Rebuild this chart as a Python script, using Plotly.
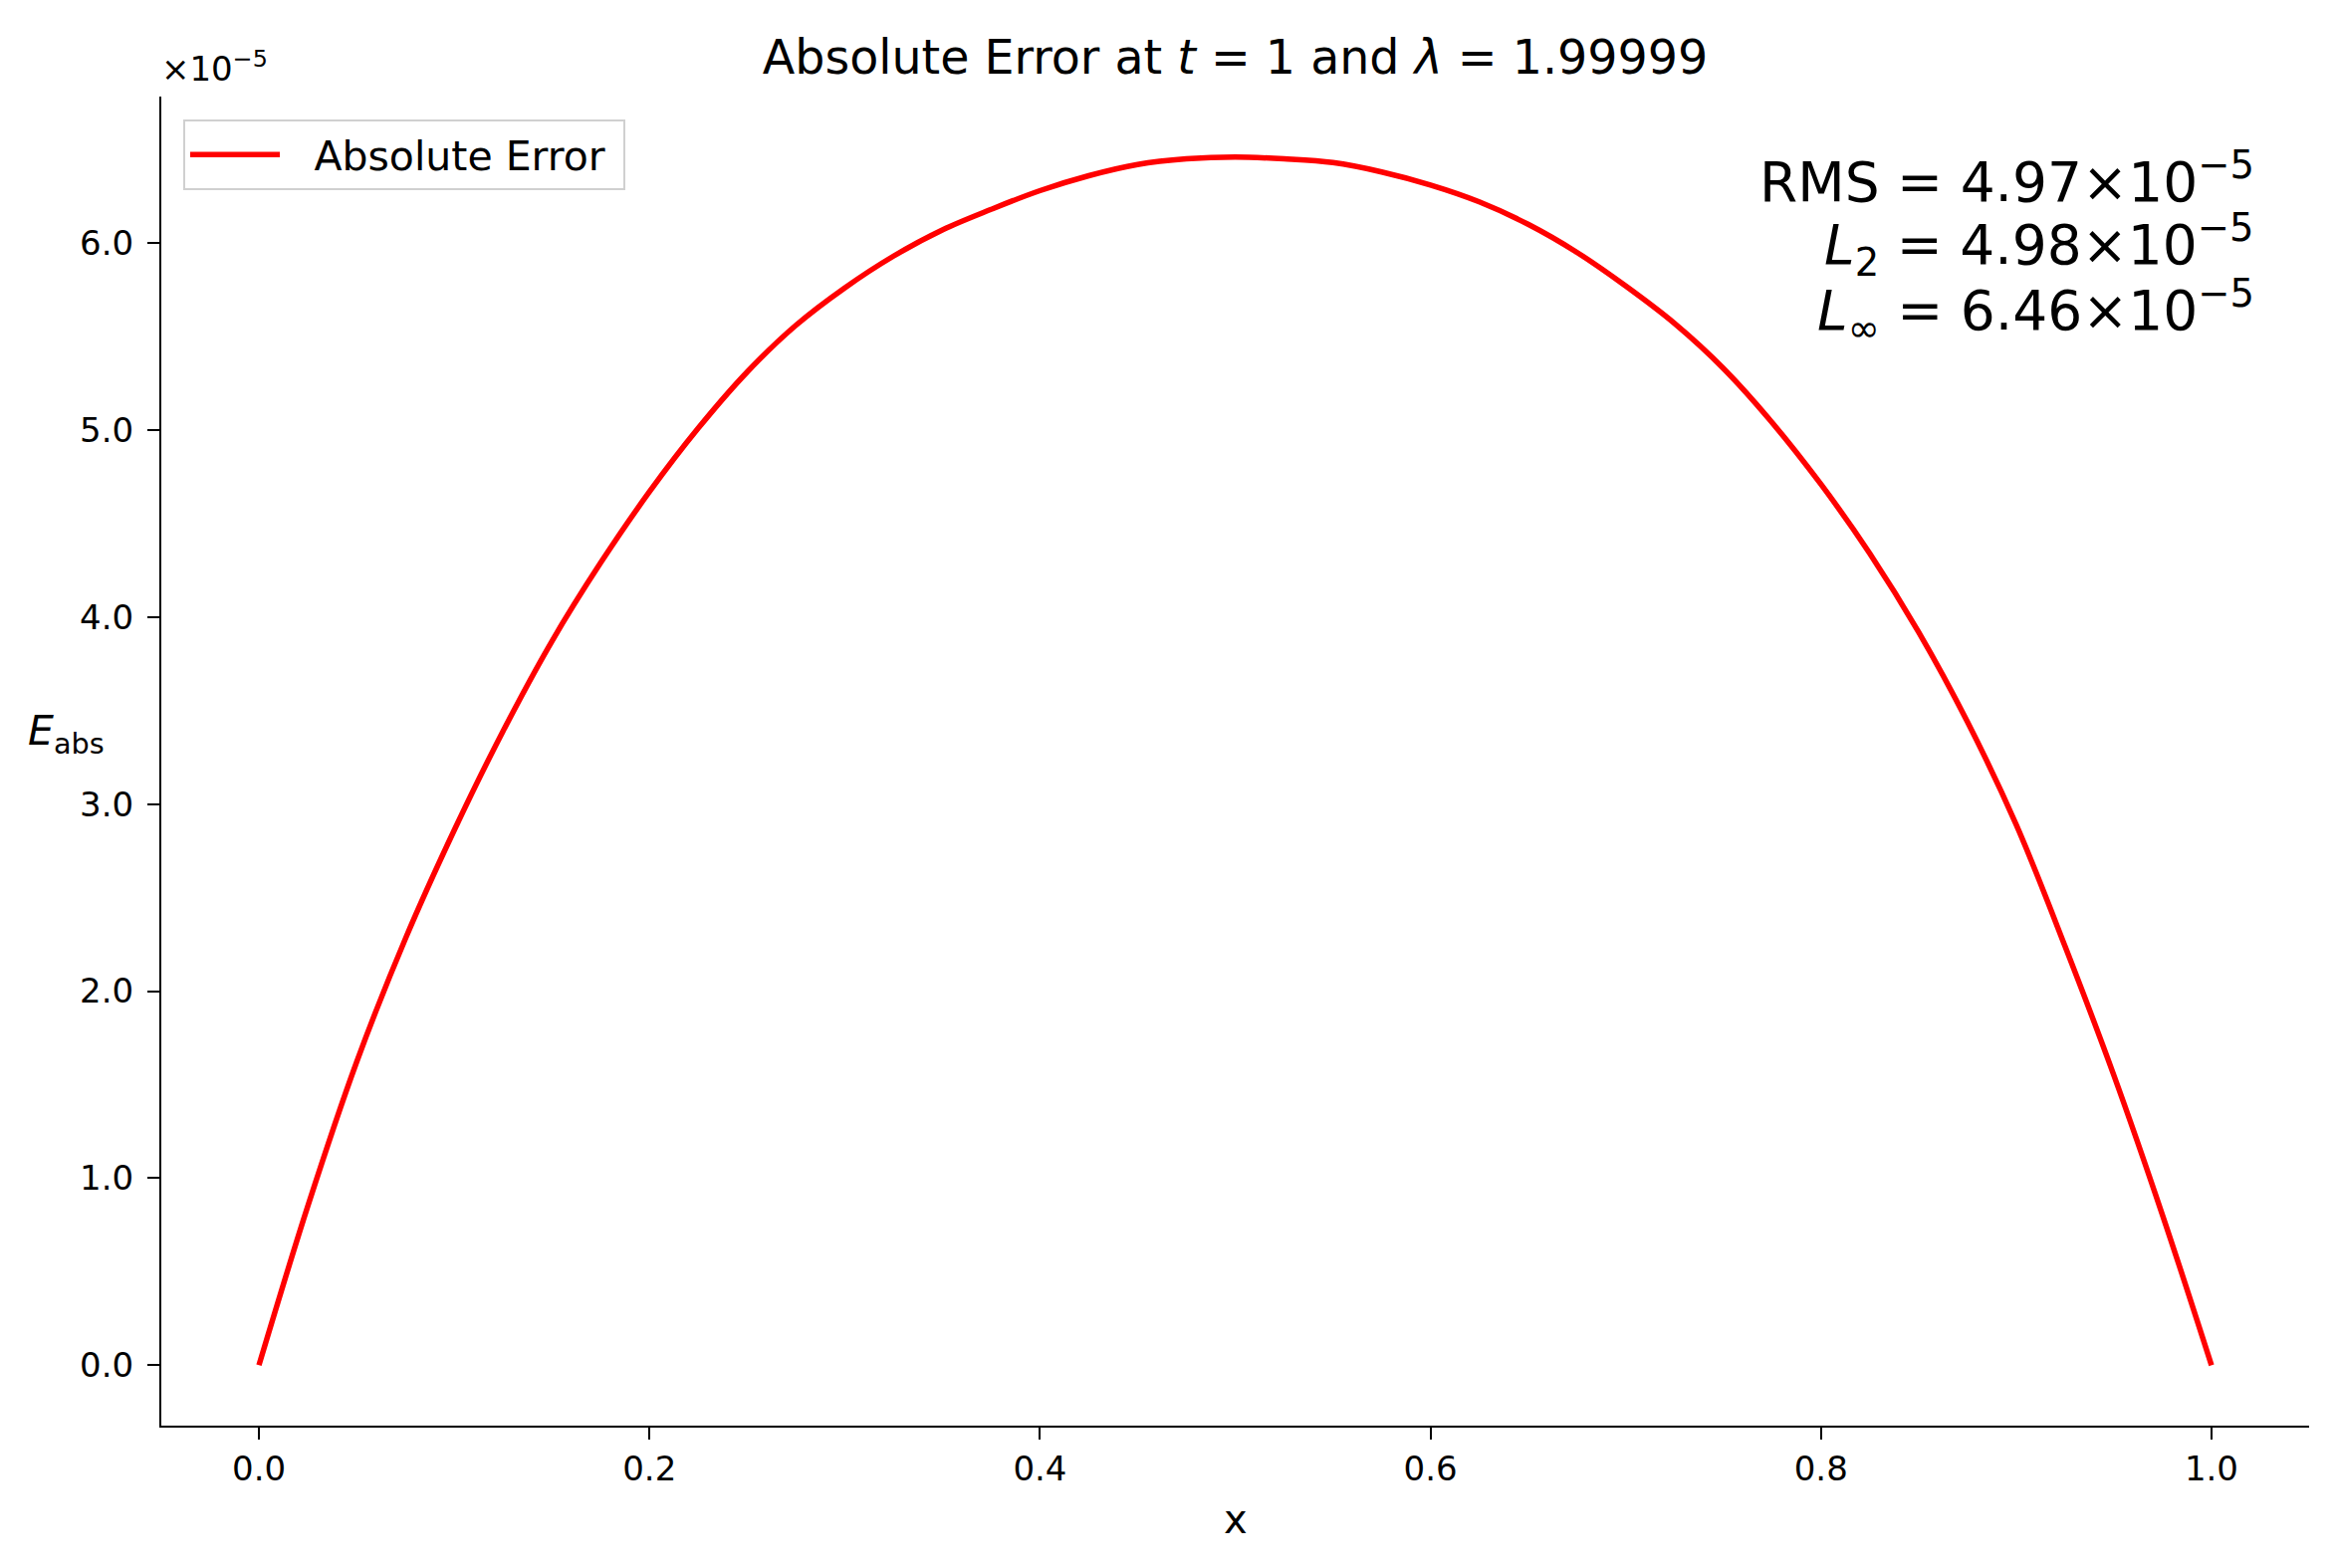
import plotly.graph_objects as go

# Values (x in [0,1], error in units of 1e-5)
x_vals = [0.0, 0.025, 0.05, 0.075, 0.1, 0.125, 0.15, 0.175, 0.2, 0.225, 0.25, 0.275,
          0.3, 0.325, 0.35, 0.375, 0.4, 0.425, 0.45, 0.475, 0.5, 0.525, 0.55, 0.575,
          0.6, 0.625, 0.65, 0.675, 0.7, 0.725, 0.75, 0.775, 0.8, 0.825, 0.85, 0.875,
          0.9, 0.925, 0.95, 0.975, 1.0]
abs_error_e5 = [0.0, 0.85, 1.62, 2.28, 2.86, 3.39, 3.87, 4.29, 4.67, 5.01, 5.31, 5.56,
                5.76, 5.93, 6.07, 6.18, 6.28, 6.36, 6.42, 6.45, 6.46, 6.45, 6.43, 6.38,
                6.31, 6.22, 6.10, 5.95, 5.77, 5.57, 5.33, 5.04, 4.71, 4.34, 3.92, 3.44,
                2.89, 2.24, 1.55, 0.80, 0.0]
x_ticks = [0.0, 0.2, 0.4, 0.6, 0.8, 1.0]
x_ticktext = ["0.0", "0.2", "0.4", "0.6", "0.8", "1.0"]
y_ticks = [0, 1, 2, 3, 4, 5, 6]
y_ticktext = ["0.0", "1.0", "2.0", "3.0", "4.0", "5.0", "6.0"]
metric_lines = ["RMS = 4.97×10<sup>−5</sup>",
                "<i>L</i><sub>2</sub> = 4.98×10<sup>−5</sup>",
                "<i>L</i><sub>∞</sub> = 6.46×10<sup>−5</sup>"]

FONT = "DejaVu Sans"
OFF = 8  # default page body margin
PAGE_W, PAGE_H = 2346, 1575
W, H = PAGE_W - OFF, PAGE_H - OFF
# plot area in page pixels
PL, PR, PT, PB = 162, 2319, 97, 1432
L, R, T, B = PL - OFF, PAGE_W - PR, PT - OFF, PAGE_H - PB
pw, ph = PR - PL, PB - PT

def px_x(px):
    return (px - PL) / pw

def px_y(py):
    return (PB - py) / ph

fig = go.Figure()
fig.add_trace(go.Scatter(
    x=x_vals, y=abs_error_e5, mode="lines",
    name="\u00a0\u2009\u2009Absolute Error\u00a0",
    line=dict(color="#ff0000", width=5.5, shape="spline", smoothing=1.0),
))

fig.update_layout(
    width=W, height=H,
    margin=dict(l=L, r=R, t=T, b=B),
    paper_bgcolor="white", plot_bgcolor="white",
    font=dict(family=FONT, color="black", size=34),
    title=dict(text="Absolute Error at <i>t</i> = 1 and <i>λ</i> = 1.99999",
               x=0.5, xref="paper", xanchor="center",
               y=1 - (57 - OFF) / H, yref="container", yanchor="middle",
               font=dict(family=FONT, size=47.5, color="black")),
    showlegend=True,
    legend=dict(x=px_x(184), y=px_y(120), xanchor="left", yanchor="top",
                bgcolor="rgba(255,255,255,0.8)", bordercolor="#d0d0d0", borderwidth=2,
                font=dict(family=FONT, size=41, color="black"),
                itemwidth=90),
    xaxis=dict(range=[-0.05, 1.05], tickvals=x_ticks, ticktext=x_ticktext,
               showline=True, linecolor="black", linewidth=2, mirror=False,
               ticks="outside", ticklen=12, tickwidth=2, tickcolor="black",
               ticklabelstandoff=0,
               showgrid=False, zeroline=False,
               tickfont=dict(family=FONT, size=34, color="black")),
    yaxis=dict(range=[-0.323, 6.783], tickvals=y_ticks, ticktext=y_ticktext,
               showline=True, linecolor="black", linewidth=2, mirror=False,
               ticks="outside", ticklen=12, tickwidth=2, tickcolor="black",
               ticklabelstandoff=7,
               showgrid=False, zeroline=False,
               tickfont=dict(family=FONT, size=34, color="black")),
)

annotations = [
    dict(text="x", x=0.5, y=px_y(1526), xref="paper", yref="paper",
         xanchor="center", yanchor="middle", showarrow=False,
         font=dict(family=FONT, size=40, color="black")),
    dict(text="<i>E</i><sub>abs</sub>", x=px_x(66), y=px_y(737), xref="paper", yref="paper",
         xanchor="center", yanchor="middle", showarrow=False,
         font=dict(family=FONT, size=41, color="black")),
    dict(text="×10<sup>−5</sup>", x=px_x(160), y=px_y(67), xref="paper", yref="paper",
         xanchor="left", yanchor="middle", showarrow=False,
         font=dict(family=FONT, size=34, color="black")),
]
for txt, cy in zip(metric_lines, [179, 246, 312]):
    annotations.append(dict(text=txt, x=px_x(2266), y=px_y(cy), xref="paper", yref="paper",
                            xanchor="right", yanchor="middle", showarrow=False,
                            font=dict(family=FONT, size=55, color="black")))
fig.update_layout(annotations=annotations)

fig.write_html("out.html")
